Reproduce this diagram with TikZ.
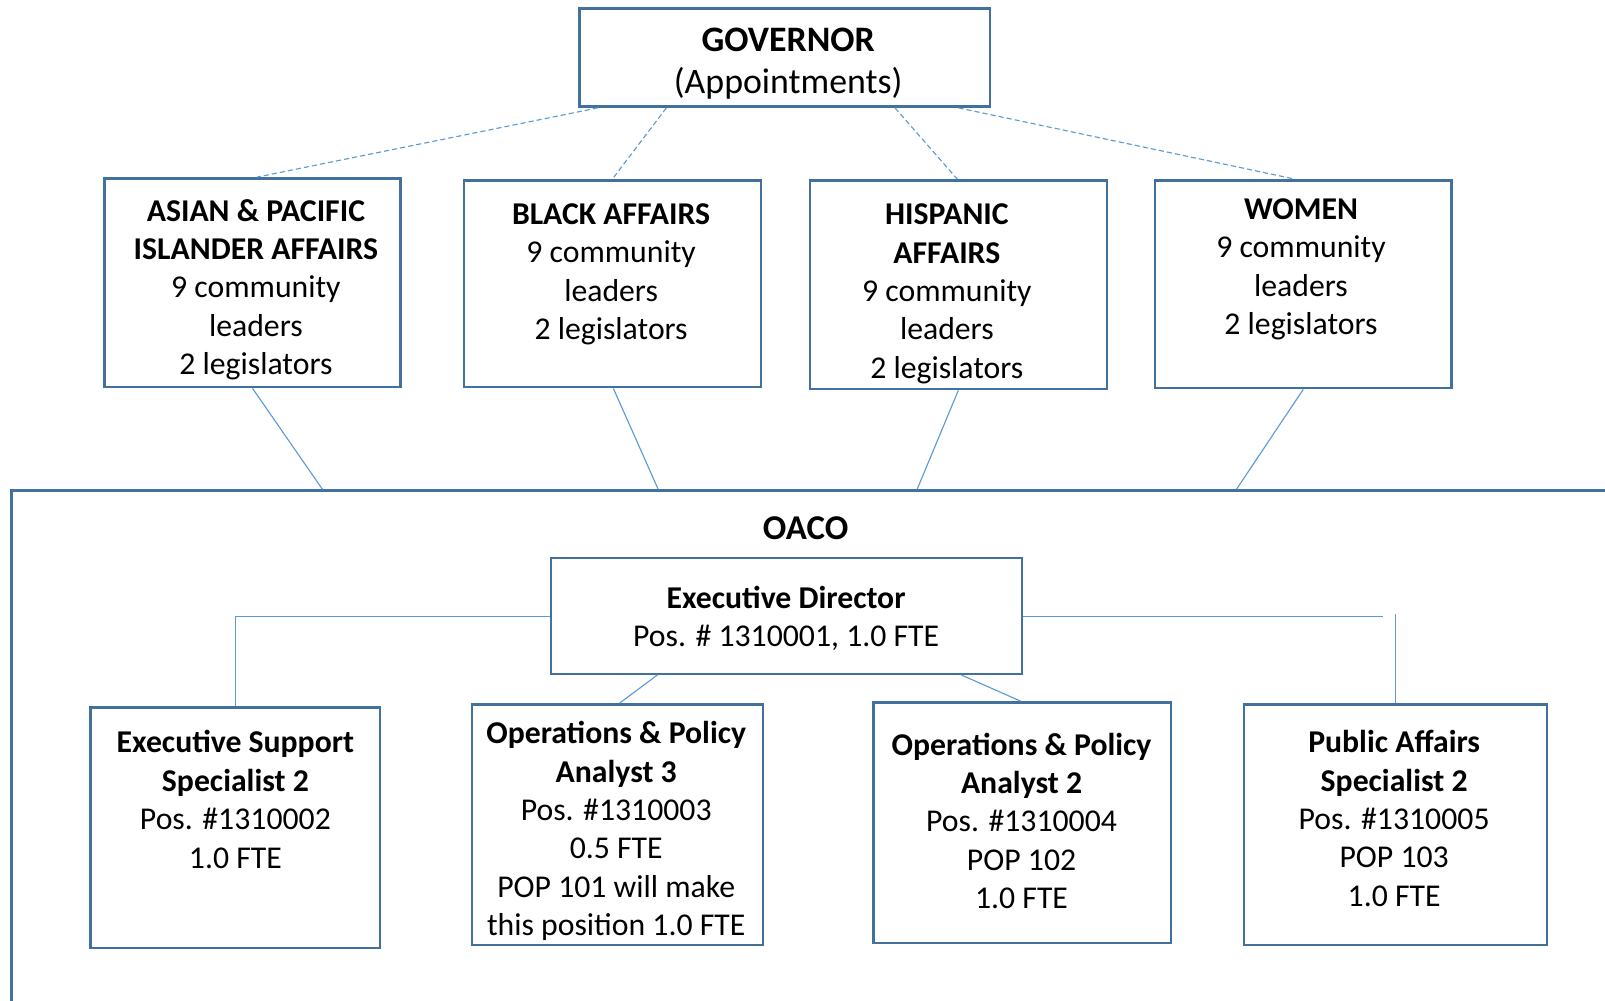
\documentclass[tikz,border=0pt]{standalone}
\usepackage{fontspec}
\setmainfont{Carlito}
\begin{document}
\begin{tikzpicture}[x=1pt,y=-1pt,
  box/.style={draw=boxblue,line width=2.4pt,rectangle,inner sep=0pt,anchor=north west},
  txt/.style={align=center,font=\fontsize{31}{37.5}\selectfont,inner sep=0pt,text=black},
  bigtxt/.style={align=center,font=\fontsize{35}{41.5}\selectfont,inner sep=0pt,text=black},
  conn/.style={draw=lineblue,line width=1.1pt},
  dashconn/.style={draw=lineblue,line width=1.1pt,dash pattern=on 5pt off 3pt}]
\definecolor{boxblue}{HTML}{41719C}
\definecolor{lineblue}{HTML}{5B9BD5}
\useasboundingbox (0,0) rectangle (1568,977);
\fill[white] (0,0) rectangle (1568,977);

% Governor
\node[box,minimum width=401pt,minimum height=96pt] (gov) at (565,7) {};
\node[bigtxt] (govt) at (770,62) {\textbf{GOVERNOR}\\(Appointments)};

% Affairs boxes
\node[box,minimum width=289pt,minimum height=204pt] (asian) at (101,173) {};
\node[box,minimum width=290pt,minimum height=202pt] (black) at (452,175) {};
\node[box,minimum width=290pt,minimum height=204pt] (hisp) at (790,175) {};
\node[box,minimum width=290pt,minimum height=203pt] (women) at (1127,175) {};

\node[txt] (asiant) at (250,283) {\textbf{ASIAN \& PACIFIC}\\\textbf{ISLANDER AFFAIRS}\\9 community\\leaders\\2 legislators};
\node[txt] (blackt) at (597,268) {\textbf{BLACK AFFAIRS}\\9 community\\leaders\\2 legislators};
\node[txt] (hispt) at (925,287) {\textbf{HISPANIC}\\\textbf{AFFAIRS}\\9 community\\leaders\\2 legislators};
\node[txt] (woment) at (1271,263) {\textbf{WOMEN}\\9 community\\leaders\\2 legislators};

% dashed appointment lines
\draw[dashconn] ([xshift=19pt]gov.south west) -- ([xshift=4.5pt]asian.north);
\draw[dashconn] ([xshift=86pt]gov.south west) -- (black.north);
\draw[dashconn] ([xshift=-94pt]gov.south east) -- ([xshift=-1pt]hisp.north);
\draw[dashconn] ([xshift=-32pt]gov.south east) -- ([xshift=-8pt]women.north);

% OACO frame
\node[box,minimum width=1600pt,minimum height=600pt] (oaco) at (10,478) {};
\node[align=center,inner sep=0pt,font=\fontsize{34}{40}\selectfont\bfseries] (oacot) at (787,516) {OACO};
\coordinate (o1) at (315,478);
\coordinate (o2) at (643,478);
\coordinate (o3) at (896,478);
\coordinate (o4) at (1208,478);
\draw[conn] (asian.south) -- (o1);
\draw[conn] ([xshift=1pt]black.south) -- (o2);
\draw[conn] (hisp.south) -- (o3);
\draw[conn] (women.south) -- (o4);

% Executive director
\node[box,minimum width=460pt,minimum height=113pt] (ed) at (537,544) {};
\node[txt] (edt) at (768,604) {\textbf{Executive Director}\\Pos. \# 1310001, 1.0 FTE};

% bottom boxes
\node[box,minimum width=283pt,minimum height=235pt] (es) at (87,690) {};
\node[box,minimum width=284pt,minimum height=235pt] (op3) at (460,687) {};
\node[box,minimum width=291pt,minimum height=235pt] (op2) at (852,685) {};
\node[box,minimum width=296pt,minimum height=235pt] (pa) at (1214,687) {};

\node[txt] (est) at (230,781) {\textbf{Executive Support}\\\textbf{Specialist 2}\\Pos. \#1310002\\1.0 FTE};
\node[txt] (op3t) at (602,812) {\textbf{Operations \& Policy}\\\textbf{Analyst 3}\\Pos. \#1310003\\0.5 FTE\\POP 101 will make\\this position 1.0 FTE};
\node[txt] (op2t) at (998,802) {\textbf{Operations \& Policy}\\\textbf{Analyst 2}\\Pos. \#1310004\\POP 102\\1.0 FTE};
\node[txt] (pat) at (1362,799.5) {\textbf{Public Affairs}\\\textbf{Specialist 2}\\Pos. \#1310005\\POP 103\\1.0 FTE};

% ED connectors
\path ([yshift=-0.5pt]ed.west) coordinate (edl);
\path ([yshift=-0.5pt]ed.east) coordinate (edr);
\draw[conn] (edl) -| (es.north);
\coordinate (gapend) at (edr -| 1351,0);
\coordinate (gapstart) at ([yshift=2pt]edr -| pa.north);
\draw[conn] (edr) -- (gapend);
\draw[conn] (gapstart) -- (pa.north);
\draw[conn] ([xshift=-126pt]ed.south) -- ([xshift=2pt]op3.north);
\draw[conn] ([xshift=171pt]ed.south) -- ([xshift=-1.5pt]op2.north);
\end{tikzpicture}
\end{document}
